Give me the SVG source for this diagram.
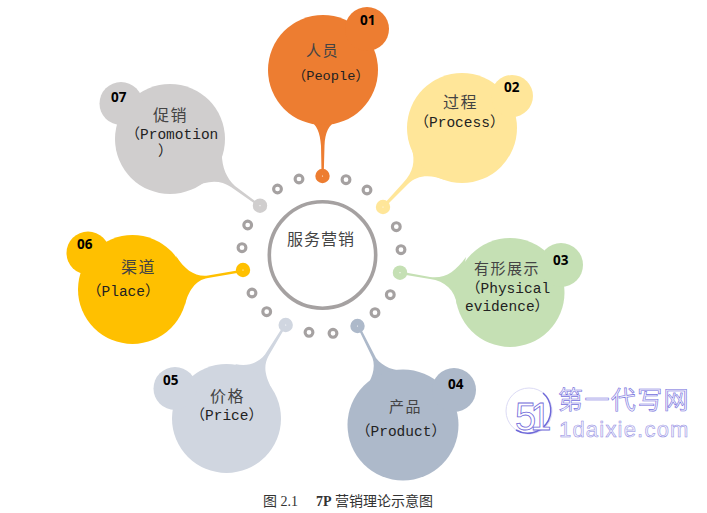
<svg xmlns="http://www.w3.org/2000/svg" width="707" height="513" viewBox="0 0 707 513">
<style>
.cn{font-family:"Noto Sans CJK SC",sans-serif;font-size:15px;fill:#444;letter-spacing:1.5px}
.en{font-family:"Liberation Mono","Noto Sans CJK SC",monospace;font-size:14.5px;fill:#222}
.num{font-family:"Open Sans",sans-serif;font-size:13.5px;font-weight:700;fill:#000}
.ring{fill:none;stroke:#a5a1a1;stroke-width:3.1}
.pip{fill:#fff}
.cap{font-family:"Liberation Serif","Noto Sans CJK SC",serif;font-size:14px;fill:#333}
.wm{font-family:"Noto Sans CJK SC",sans-serif;font-size:25px;fill:#f1f0fc;stroke:#7570dc;stroke-width:.6;letter-spacing:1.4px}
.wm2{font-family:"Liberation Sans",sans-serif;font-size:22px;fill:#f1f0fc;stroke:#8f8ae2;stroke-width:.5;letter-spacing:1.2px}
</style>
<g id="ring-dots">
<circle class="ring" cx="299" cy="179" r="3.9"/><circle class="ring" cx="277.5" cy="189" r="3.9"/><circle class="ring" cx="346" cy="179.7" r="3.9"/><circle class="ring" cx="367" cy="190" r="3.9"/>
<circle class="ring" cx="396.3" cy="226.7" r="3.9"/><circle class="ring" cx="401" cy="249.7" r="3.9"/><circle class="ring" cx="390.3" cy="294.7" r="3.9"/><circle class="ring" cx="375" cy="312.7" r="3.9"/>
<circle class="ring" cx="333" cy="333.3" r="3.9"/><circle class="ring" cx="309" cy="332.3" r="3.9"/><circle class="ring" cx="266.7" cy="311.7" r="3.9"/><circle class="ring" cx="252" cy="293" r="3.9"/>
<circle class="ring" cx="242" cy="247.7" r="3.9"/><circle class="ring" cx="247.7" cy="225" r="3.9"/>
</g>
<g id="center">
<circle cx="322.5" cy="255" r="53.2" fill="#fff" stroke="#a5a1a1" stroke-width="3.6"/>
<text class="cn" x="287" y="245" style="font-size:16px;letter-spacing:1px">服务营销</text>
</g>
<g id="connectors">
<path fill="#ED7D31" d="M309,120 C317,125 320,132 321,146 L321.5,172 L323.8,172 L324.5,146 C325,132 329,125 336,121 Z"/>
<path fill="#FFE699" d="M412,150 C415,160 414,172 403,183 L384,204 L386,206 L408,184 C417,175 430,174 445,180 Z"/>
<path fill="#C5E0B4" d="M466,257 C455,272 445,279 430,277 L400,271.5 L400,274 L430,279 C445,281 455,290 457,305 Z"/>
<path fill="#ADB9CA" d="M364,390 C372,380 376,368 372.5,358 L358,328 L360,327 L376,358 C384,368 395,372 415,371 Z"/>
<path fill="#D0D6E0" d="M235,364 C248,367 258,363 265,354.5 L284,325 L286,326 L268.5,356 C263,366 265,376 272,389 Z"/>
<path fill="#FFC000" d="M176,256 C185,270 195,277 208,275.5 L243,269.5 L243,272 L208,278 C195,280 188,292 185,305 Z"/>
<path fill="#D0CECE" d="M222,150 C221,165 226,178 235,186 L259,204 L258,206 L231,187 C220,180 208,180 192,188 Z"/>
</g>
<g id="node-01" fill="#ED7D31">
<circle cx="323" cy="70" r="55"/><circle cx="367" cy="29" r="22"/><circle cx="322.5" cy="176" r="7.2"/><circle class="pip" cx="322.5" cy="176" r=".6"/>
<text class="num" x="360" y="25">01</text>
<text class="cn" x="306" y="56">人员</text>
<text class="en" x="292.5" y="80" style="font-size:13.7px">（People）</text>
</g>
<g id="node-02" fill="#FFE699">
<circle cx="462" cy="128" r="55"/><circle cx="512" cy="96" r="21"/><circle cx="383" cy="207" r="7.2"/><circle class="pip" cx="383" cy="207" r=".6"/>
<text class="num" x="504" y="92">02</text>
<text class="cn" x="443" y="108" style="font-size:16px">过程</text>
<text class="en" x="414.5" y="127">（Process）</text>
</g>
<g id="node-03" fill="#C5E0B4">
<circle cx="510" cy="292.5" r="54.5"/><circle cx="561" cy="265" r="22"/><circle cx="400" cy="272.7" r="7.2"/><circle class="pip" cx="400" cy="272.7" r=".6"/>
<text class="num" x="553" y="265">03</text>
<text class="cn" x="474" y="274" style="letter-spacing:1.5px">有形展示</text>
<text class="en" x="466" y="292.5">（Physical</text>
<text class="en" x="465" y="310.5">evidence）</text>
</g>
<g id="node-04" fill="#ADB9CA">
<circle cx="403" cy="425" r="55.5"/><circle cx="454" cy="390" r="22"/><circle cx="357.5" cy="326" r="7.2"/><circle class="pip" cx="357.5" cy="326" r=".6"/>
<text class="num" x="448" y="389">04</text>
<text class="cn" x="389" y="412">产品</text>
<text class="en" x="356" y="436">（Product）</text>
</g>
<g id="node-05" fill="#D0D6E0">
<circle cx="226.5" cy="418.5" r="54.5"/><circle cx="175" cy="388.5" r="21.5"/><circle cx="285.7" cy="325" r="7.2"/><circle class="pip" cx="285.7" cy="325" r=".6"/>
<text class="num" x="163" y="385">05</text>
<text class="cn" x="210" y="402" style="font-size:16px">价格</text>
<text class="en" x="190.5" y="419.5">（Price）</text>
</g>
<g id="node-06" fill="#FFC000">
<circle cx="132.5" cy="289.5" r="54.5"/><circle cx="88" cy="253" r="21.5"/><circle cx="243" cy="270" r="7.2"/><circle class="pip" cx="243" cy="270" r=".6"/>
<text class="num" x="77" y="249">06</text>
<text class="cn" x="121" y="273" style="font-size:16px">渠道</text>
<text class="en" x="87" y="295.5">（Place）</text>
</g>
<g id="node-07" fill="#D0CECE">
<circle cx="170" cy="139" r="55"/><circle cx="121" cy="103.5" r="21.5"/><circle cx="260" cy="205.7" r="7.2"/><circle class="pip" cx="260" cy="205.7" r=".6"/>
<text class="num" x="111" y="102">07</text>
<text class="cn" x="153" y="121" style="font-size:16px">促销</text>
<text class="en" x="125.5" y="138.5">（Promotion</text>
<text class="en" x="158" y="156">）</text>
</g>
<g id="watermark">
<circle cx="529" cy="411" r="23" fill="#fff" stroke="#dcdbf5" stroke-width="1"/>
<path d="M543,393 A23,23 0 0 1 516,430" fill="none" stroke="#6f69d9" stroke-width="1.5"/>
<text x="515" y="430" style="font-family:'Liberation Sans',sans-serif;font-size:38px;fill:#fff;stroke:#6f69d9;stroke-width:.8;letter-spacing:-6px">51</text>
<text class="wm" x="558" y="409">第一代写网</text>
<text class="wm2" x="559" y="437">1daixie.com</text>
</g>
<text class="cap" x="263" y="506">图 2.1</text>
<text class="cap" x="316" y="506"><tspan font-weight="700">7P</tspan> 营销理论示意图</text>
</svg>
